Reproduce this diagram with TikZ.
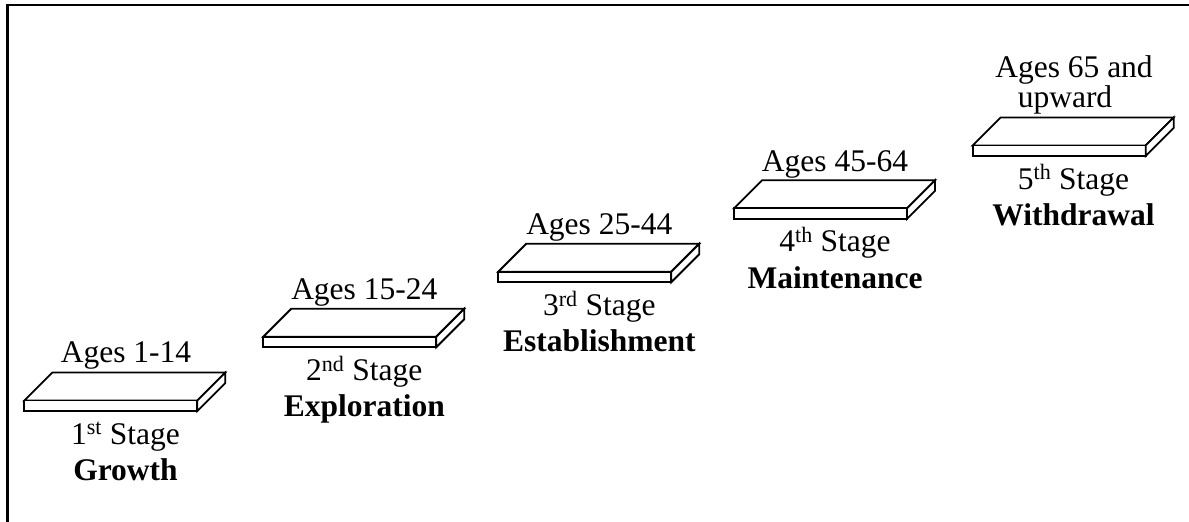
\documentclass[tikz,border=0pt]{standalone}
\usepackage{fontspec}
\setmainfont{Liberation Serif}
\tikzset{
  slabline/.style={draw=black, line width=1.8pt, fill=white, line join=miter},
  slab/.pic={
    \path[slabline] (0,0) -- (28,-28) -- (201,-28) -- (173,0) -- cycle;
    \path[slabline] (0,0) rectangle (173,10.5);
    \path[slabline] (173,0) -- (201,-28) -- (201,-17.5) -- (173,10.5) -- cycle;
  },
  lbl/.style={anchor=base, inner sep=0pt, font=\fontsize{31.5}{26.6}\selectfont},
  bld/.style={anchor=base, inner sep=0pt, font=\fontsize{31.5}{26.6}\selectfont\bfseries},
  frameline/.style={draw=black, line width=2.2pt}
}
\begin{document}
\begin{tikzpicture}[x=1pt,y=-1pt]
\useasboundingbox (0,0) rectangle (1189,522);
\coordinate (fb) at (7.5,530);
\coordinate (fc) at (7.5,5);
\coordinate (fr) at (1195,5);
\draw[frameline] (fb) -- (fc) -- (fr);

% slabs
\pic (s1) at (24.3,400.5) {slab};
\pic (s2) at (263.3,336.7) {slab};
\pic (s3) at (498.3,271.7) {slab};
\pic (s4) at (734,208.3) {slab};
\pic (s5) at (972.7,145.5) {slab};

% stage 1
\node[lbl] (a1) at (126,362) {Ages 1-14};
\node[lbl] (t1) at (125.5,444) {1\textsuperscript{st} Stage};
\node[bld] (n1) at (125.5,480.5) {Growth};
% stage 2
\node[lbl] (a2) at (364.3,299) {Ages 15-24};
\node[lbl] (t2) at (364.3,380.2) {2\textsuperscript{nd} Stage};
\node[bld] (n2) at (364.3,416.7) {Exploration};
% stage 3
\node[lbl] (a3) at (599.3,234.5) {Ages 25-44};
\node[lbl] (t3) at (599.3,315.2) {3\textsuperscript{rd} Stage};
\node[bld] (n3) at (599.3,351.7) {Establishment};
% stage 4
\node[lbl] (a4) at (835,171) {Ages 45-64};
\node[lbl] (t4) at (835,251.8) {4\textsuperscript{th} Stage};
\node[bld] (n4) at (835,288.3) {Maintenance};
% stage 5
\node[lbl, align=center] (a5) at (1074,107) {Ages 65 and\\upward\hspace*{18pt}};
\node[lbl] (t5) at (1073.5,189) {5\textsuperscript{th} Stage};
\node[bld] (n5) at (1073.5,225.5) {Withdrawal};
\end{tikzpicture}
\end{document}
